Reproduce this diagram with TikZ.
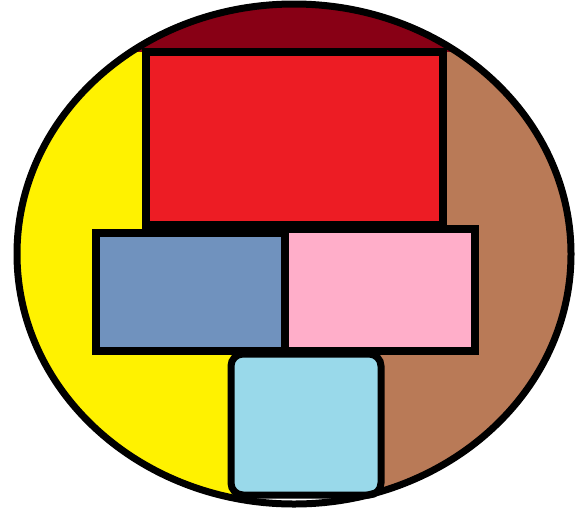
\documentclass[tikz,border=0pt]{standalone}
\definecolor{paintyellow}{HTML}{FFF200}
\definecolor{paintbrown}{HTML}{B97A57}
\definecolor{paintmaroon}{HTML}{880015}
\definecolor{paintred}{HTML}{ED1C24}
\definecolor{paintblue}{HTML}{7092BE}
\definecolor{paintpink}{HTML}{FFAEC9}
\definecolor{paintsky}{HTML}{99D9EA}
\tikzset{
  block/.style={draw=black,line width=8pt},
}
\begin{document}
\begin{tikzpicture}[x=1pt,y=-1pt]
    \useasboundingbox (0,0) rectangle (575,512);
    \coordinate (c) at (294,254);
    % colour regions inside the oval
    \begin{scope}
      \clip (c) ellipse [x radius=277, y radius=250];
      \fill[white] (0,0) rectangle (575,512);
      \fill[paintyellow] (0,0) rectangle (238,512);
      \fill[paintbrown] (376,0) rectangle (575,512);
      \fill[paintmaroon] (0,0) rectangle (575,52);
    \end{scope}
    % blocks
    \filldraw[block,fill=paintred] (146,52) rectangle (443,225);
    \filldraw[block,fill=paintblue] (96,233) rectangle (285,351);
    \filldraw[block,fill=paintpink] (285,229) rectangle (475,351);
    \filldraw[block,line width=7pt,fill=paintsky,rounded corners=12pt]
      (231,354) rectangle (381,495);
    \draw[black,line width=7pt] (c) ellipse [x radius=277, y radius=250];
  \end{tikzpicture}
\end{document}
